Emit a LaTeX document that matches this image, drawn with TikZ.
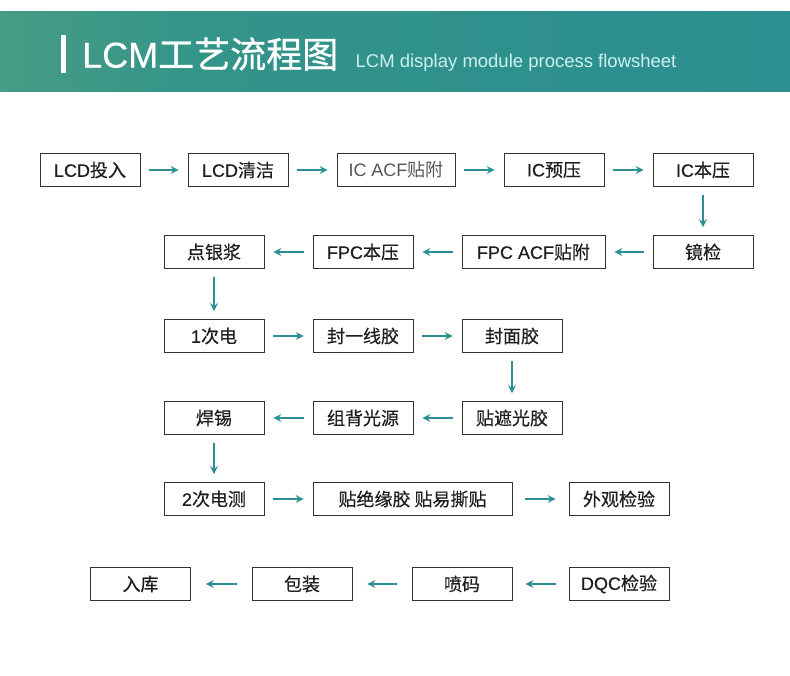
\documentclass[tikz,border=0pt]{standalone}
\usepackage{fontspec}
\setmainfont{Noto Sans CJK SC}[FakeBold=0.45]
\newfontfamily\lat{Liberation Sans}[FakeBold=0.35]
\newfontfamily\latlight{Liberation Sans}
\newfontfamily\cjklight{Noto Sans CJK SC}
\newfontfamily\cjktitle{Noto Sans CJK SC}[FakeBold=0.8]
\newfontfamily\lattitle{Liberation Sans}[FakeBold=0.5]
\usetikzlibrary{arrows.meta,calc}

\definecolor{flowteal}{RGB}{44,143,150}
\definecolor{boxline}{RGB}{50,50,50}
\definecolor{boxtext}{RGB}{30,30,30}
\definecolor{softtext}{RGB}{85,85,85}
\definecolor{subtext}{RGB}{205,240,240}
\pgfdeclarehorizontalshading{headband}{100bp}{%
  rgb(0bp)=(0.42,0.68,0.48);
  rgb(38bp)=(0.20,0.58,0.54);
  rgb(100bp)=(0.15,0.54,0.58)}

\tikzset{
  stepbox/.style={draw=boxline,line width=0.9pt,minimum width=100pt,minimum height=33pt,
    inner sep=0pt,text=boxtext,font=\fontsize{18pt}{21pt}\selectfont},
  flow/.style={draw=flowteal,line width=1.5pt,-{Stealth[length=8pt,width=8pt,inset=3pt]}},
  trim/.style={shorten <=#1,shorten >=#1}
}

\begin{document}
\begin{tikzpicture}[x=1pt,y=-1pt]
\useasboundingbox (0,0) rectangle (790,676);
% header band
\shade[shading=headband] (0,12) rectangle (790,92);
\fill[white] (61,35) rectangle (66,73);
\node[anchor=west,inner sep=0pt,text=white,font=\cjktitle\fontsize{36pt}{40pt}\selectfont] (title) at (82,54) {{\lattitle LCM}工艺流程图};
\node[anchor=base west,inner sep=0pt,text=subtext,font=\latlight\fontsize{18.5pt}{21pt}\selectfont] (subtitle) at ($(title.base east)+(17,0)$) {LCM display module process flowsheet};

% row 1
\node[stepbox] (lcdin) at (90,170) {{\lat LCD}投入};
\node[stepbox] (lcdclean) at (238,170) {{\lat LCD}清洁};
\node[stepbox,minimum width=118pt,text=softtext,font=\cjklight\fontsize{18pt}{21pt}\selectfont] (icacf) at (396,170) {{\latlight IC ACF}贴附};
\node[stepbox] (icpre) at (554,170) {{\lat IC}预压};
\node[stepbox] (icmain) at (703,170) {{\lat IC}本压};
% row 2
\node[stepbox] (mirror) at (703,252) {镜检};
\node[stepbox,minimum width=143pt] (fpcacf) at (533.5,252) {{\lat FPC ACF}贴附};
\node[stepbox] (fpcmain) at (363,252) {{\lat FPC}本压};
\node[stepbox] (silver) at (214,252) {点银浆};
% row 3
\node[stepbox] (test1) at (214,336) {{\lat 1}次电};
\node[stepbox] (sealline) at (363,336) {封一线胶};
\node[stepbox] (sealface) at (512,336) {封面胶};
% row 4
\node[stepbox] (shade) at (512,418) {贴遮光胶};
\node[stepbox] (backlight) at (363,418) {组背光源};
\node[stepbox] (solder) at (214,418) {焊锡};
% row 5
\node[stepbox] (test2) at (214,499) {{\lat 2}次电测};
\node[stepbox,minimum width=199pt] (insul) at (412.5,499) {贴绝缘胶 贴易撕贴};
\node[stepbox] (visual) at (619,499) {外观检验};
% row 6
\node[stepbox] (dqc) at (619,584) {{\lat DQC}检验};
\node[stepbox] (inkcode) at (462,584) {喷码};
\node[stepbox] (pack) at (302,584) {包装};
\node[stepbox] (store) at (140.5,584) {入库};

% connectors
\draw[flow,trim=9pt] (lcdin) -- (lcdclean);
\draw[flow,trim=9pt] (lcdclean) -- (icacf);
\draw[flow,trim=9pt] (icacf) -- (icpre);
\draw[flow,trim=9pt] (icpre) -- (icmain);
\draw[flow,trim=8pt] (icmain) -- (mirror);
\draw[flow,trim=9pt] (mirror) -- (fpcacf);
\draw[flow,trim=9pt] (fpcacf) -- (fpcmain);
\draw[flow,trim=9pt] (fpcmain) -- (silver);
\draw[flow,trim=8pt] (silver) -- (test1);
\draw[flow,trim=9pt] (test1) -- (sealline);
\draw[flow,trim=9pt] (sealline) -- (sealface);
\draw[flow,trim=8pt] (sealface) -- (shade);
\draw[flow,trim=9pt] (shade) -- (backlight);
\draw[flow,trim=9pt] (backlight) -- (solder);
\draw[flow,trim=8pt] (solder) -- (test2);
\draw[flow,trim=9pt] (test2) -- (insul);
\draw[flow,trim=13pt] (insul) -- (visual);
\draw[flow,trim=13pt] (dqc) -- (inkcode);
\draw[flow,trim=15pt] (inkcode) -- (pack);
\draw[flow,trim=15pt] (pack) -- (store);
\end{tikzpicture}
\end{document}
